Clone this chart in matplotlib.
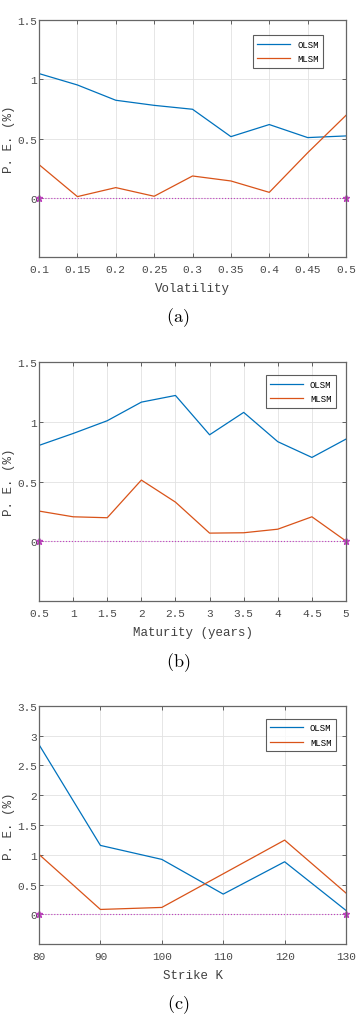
import matplotlib.pyplot as plt
import numpy as np

plt.rcParams['mathtext.fontset'] = 'cm'

# panel (a): volatility
vol = [0.1, 0.15, 0.2, 0.25, 0.3, 0.35, 0.4, 0.45, 0.5]
olsm_vol = [1.048, 0.952, 0.823, 0.78, 0.747, 0.516, 0.618, 0.508, 0.522]
mlsm_vol = [0.28, 0.01, 0.086, 0.013, 0.184, 0.142, 0.046, 0.38, 0.696]
vol_ticks = ['0.1', '0.15', '0.2', '0.25', '0.3', '0.35', '0.4', '0.45', '0.5']

# panel (b): maturity
mat = [0.5, 1, 1.5, 2, 2.5, 3, 3.5, 4, 4.5, 5]
olsm_mat = [0.803, 0.903, 1.01, 1.166, 1.222, 0.892, 1.08, 0.834, 0.702, 0.856]
mlsm_mat = [0.252, 0.204, 0.196, 0.512, 0.327, 0.067, 0.07, 0.1, 0.204, 0.0]
mat_ticks = ['0.5', '1', '1.5', '2', '2.5', '3', '3.5', '4', '4.5', '5']

# panel (c): strike
strike = [80, 90, 100, 110, 120, 130]
olsm_k = [2.85, 1.157, 0.922, 0.339, 0.882, 0.064]
mlsm_k = [1.006, 0.081, 0.115, 0.68, 1.246, 0.356]
strike_ticks = ['80', '90', '100', '110', '120', '130']

blue = '#0072BD'
orange = '#D95319'
axcol = '#4a4a4a'
mono = 'Liberation Mono'

fig = plt.figure(figsize=(3.56, 10.2), dpi=100)

panels = [
    (vol, olsm_vol, mlsm_vol, vol_ticks, [0, 0.5, 1, 1.5], ['0', '0.5', '1', '1.5'], 1.5,
     'Volatility', [0.1096, 0.747, 0.8624, 0.2324], (0.94, 0.955), '(a)', 318),
    (mat, olsm_mat, mlsm_mat, mat_ticks, [0, 0.5, 1, 1.5], ['0', '0.5', '1', '1.5'], 1.5,
     'Maturity (years)', [0.1096, 0.4101, 0.8624, 0.2337], (0.982, 0.965), '(b)', 663),
    (strike, olsm_k, mlsm_k, strike_ticks, [0, 0.5, 1, 1.5, 2, 2.5, 3, 3.5],
     ['0', '0.5', '1', '1.5', '2', '2.5', '3', '3.5'], 3.5,
     'Strike K', [0.1096, 0.0735, 0.8624, 0.2334], (0.982, 0.965), '(c)', 1005),
]

for x, o, m, xt, yt, ytl, ytop, xl, pos, anchor, tag, ty in panels:
    ax = fig.add_axes(pos)
    ax.plot(x, o, color=blue, lw=0.9, label='OLSM')
    ax.plot(x, m, color=orange, lw=0.9, label='MLSM')
    ax.plot([x[0], x[-1]], [0, 0], ':', color='#c040c0', lw=0.8,
            marker='*', ms=5, clip_on=False)
    ax.set_xlim(x[0], x[-1])
    ax.set_ylim(-0.5, ytop)
    ax.set_xticks(x)
    ax.set_xticklabels(xt, family=mono, fontsize=8, color=axcol)
    ax.set_yticks(yt)
    ax.set_yticklabels(ytl, family=mono, fontsize=8, color=axcol)
    ax.tick_params(direction='in', top=True, right=True, length=3, width=0.6,
                   color=axcol)
    ax.tick_params(axis='y', pad=1.5)
    ax.tick_params(axis='x', pad=5)
    ax.grid(True, color='#e2e2e2', lw=0.6)
    ax.set_axisbelow(True)
    for s in ax.spines.values():
        s.set_color('#666666')
        s.set_linewidth(0.9)
    ax.set_xlabel(xl, family=mono, fontsize=9, color='#404040')
    ax.xaxis.set_label_coords(0.5, -0.105)
    ax.set_ylabel('P. E. (%)', family=mono, fontsize=9, color='#404040')
    ax.yaxis.set_label_coords(-0.078, 0.5)
    leg = ax.legend(loc='upper right', bbox_to_anchor=anchor, prop={'family': mono, 'size': 6.5},
                    fancybox=False, edgecolor='#333333', handlelength=3.6, borderpad=0.5,
                    labelspacing=0.6)
    leg.get_frame().set_linewidth(0.8)
    fig.text(0.5, 1 - ty / 1020, r'$\mathrm{' + tag + '}$', ha='center', va='center', fontsize=13)

fig.savefig('out.png', dpi=100)
